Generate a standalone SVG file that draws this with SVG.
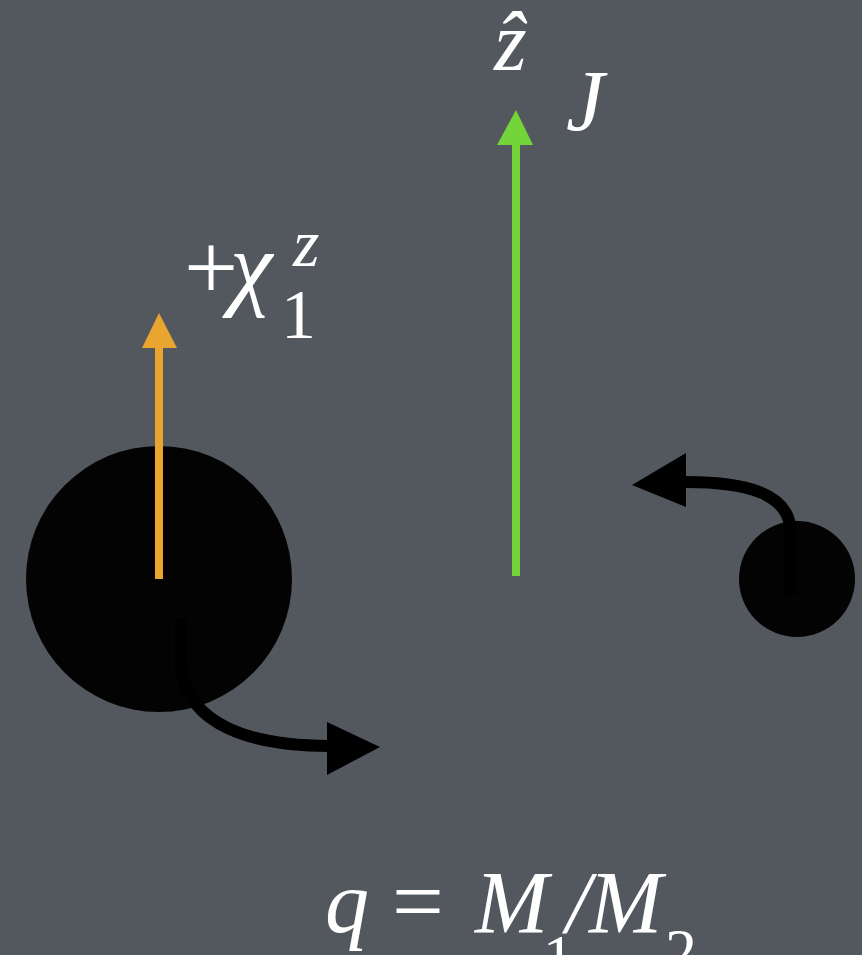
<svg xmlns="http://www.w3.org/2000/svg" width="862" height="955" viewBox="0 0 862 955">
<rect width="862" height="955" fill="#53575e"/>
<g id="bh1"><circle cx="159" cy="579" r="133" fill="#030303"/></g>
<g id="bh2"><circle cx="797" cy="579" r="58" fill="#030303"/></g>
<g id="connectors">
<line x1="159" y1="579" x2="159" y2="345" stroke="#e8a530" stroke-width="8"/>
<polygon points="159,313 142,348 177,348" fill="#e8a530"/>
<line x1="516" y1="576" x2="516" y2="142" stroke="#73d53a" stroke-width="8"/>
<polygon points="516,110 497,145 533,145" fill="#73d53a"/>
<path d="M181,618 L181,670 C190,725 250,746 330,746" fill="none" stroke="#000" stroke-width="12"/>
<polygon points="380,747 327,722 327,775" fill="#000"/>
<path d="M790,595 L790,525 C785,495 750,482 686,482" fill="none" stroke="#000" stroke-width="12"/>
<polygon points="632,485 686,453 686,507" fill="#000"/>
</g>
<g id="labels">
<text x="494" y="70" style="font-family:'Liberation Serif','DejaVu Serif',serif;font-style:italic;font-size:84px;fill:#fff">ẑ</text>
<text x="566" y="130" style="font-family:'Liberation Serif','DejaVu Serif',serif;font-style:italic;font-size:86px;fill:#fff">J</text>
<text style="font-family:'Liberation Serif','DejaVu Serif',serif;font-size:96px;fill:#fff"><tspan x="184" y="299">+</tspan><tspan x="230" y="298" style="font-style:italic">χ</tspan><tspan x="293" y="266" style="font-style:italic;font-size:68px">z</tspan><tspan x="281" y="338" style="font-size:70px">1</tspan></text>
<text style="font-family:'Liberation Serif','DejaVu Serif',serif;font-size:88px;fill:#fff"><tspan x="325" y="932" style="font-style:italic">q</tspan><tspan x="392" y="932" style="font-size:92px">=</tspan><tspan x="475" y="932" style="font-style:italic">M</tspan><tspan x="543" y="977" style="font-size:62px">1</tspan><tspan x="566" y="932" style="font-style:italic">/</tspan><tspan x="589" y="932" style="font-style:italic">M</tspan><tspan x="665" y="973" style="font-size:64px">2</tspan></text>
</g>
</svg>
